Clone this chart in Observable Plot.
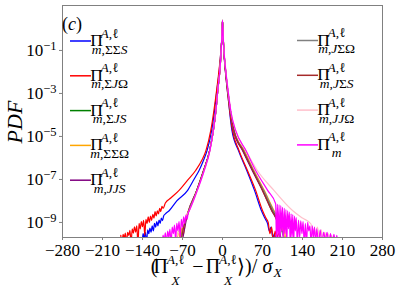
<!DOCTYPE html>
<html><head><meta charset="utf-8">
<script src="https://cdn.jsdelivr.net/npm/d3@7"></script>
<script src="https://cdn.jsdelivr.net/npm/@observablehq/plot@0.6"></script>
<style>
body{margin:0;background:#fff;}
#chart{width:399px;height:290px;}
#chart svg text, #chart svg tspan { font-family: "Liberation Serif", "Times New Roman", Times, serif !important; }
</style></head><body><div id="chart"></div>
<script>
// ---------- data ----------
const seriesKeys = ["ΣΣS","ΣJΩ","ΣJS","ΣΣΩ","JJS","JΣΩ","JΣS","JJΩ","m"];
const seriesColors = ["#0000ff","#ff0000","#008000","#ffa500","#800080","#808080","#a52a2a","#ffc0cb","#ff00ff"];
const xTicks = [-280,-210,-140,-70,0,70,140,210,280];
const yTicks = [1e-1,1e-3,1e-5,1e-7,1e-9];

const x_SSS = [-143,-141,-139,-137,-135,-133,-131,-129,-127,-125,-123,-121,-119,-117,-115,-113,-111,-109,-107,-105,-103,-100,-93,-80,-61,-50,-41,-33,-27,-19,-14,-9.5,-5.5,-3,-1,0,1,3,6,10,16.5,28,42.5,56,68,74,79,82,85,88,91,94];
const p_SSS = [2e-10,1e-10,3e-10,2e-10,3.5e-10,1e-10,4.5e-10,3e-10,5.5e-10,3.5e-10,7e-10,4e-10,9e-10,6e-10,1.1e-9,7e-10,1.3e-9,9e-10,1.6e-9,1.2e-9,2e-9,2.5e-9,3.6e-9,1e-8,3.1e-8,1e-7,2.6e-7,8e-7,2.2e-6,1.9e-5,1.6e-4,1.6e-3,1.26e-2,7.9e-2,0.5,2.5,0.5,5e-2,6e-3,6e-4,1.9e-5,2.2e-6,2.6e-7,3.1e-8,3.6e-9,1.6e-9,8.7e-10,4e-10,6e-10,2e-10,3e-10,1e-10];

const x_SJO = [-178,-176,-174,-172,-170,-168,-166,-164,-162,-160,-158,-156,-154,-152,-150,-148,-146,-144,-142,-140,-138,-136,-134,-132,-130,-128,-126,-124,-122,-120,-118,-116,-114,-112,-110,-108,-106,-104,-100,-90,-76,-61,-47,-36,-29,-20.5,-15,-10,-6,-3,-1,0,1,3,6,10,17.5,29,43.7,58,70,76,80,83,86,89,92,95,98,102];
const p_SJO = [2.5e-10,1e-10,2.8e-10,2e-10,3.2e-10,1e-10,3.5e-10,2.5e-10,4.3e-10,1e-10,5e-10,3.2e-10,6.3e-10,3.5e-10,7e-10,1e-10,9e-10,5e-10,1.1e-9,6.3e-10,1.26e-9,2.5e-10,1.4e-9,9e-10,1.8e-9,1e-9,2e-9,1.26e-9,2.4e-9,1.6e-9,3.2e-9,2e-9,3.5e-9,2.5e-9,4.5e-9,3.2e-9,5.6e-9,4.5e-9,8e-9,1.4e-8,3.1e-8,9.3e-8,2.6e-7,8e-7,2.2e-6,1.9e-5,1.6e-4,1.6e-3,1.26e-2,7.9e-2,0.5,2.5,0.5,5e-2,6e-3,6e-4,1.9e-5,2.2e-6,2.6e-7,3.1e-8,3.6e-9,1.6e-9,1e-9,3e-10,6e-10,1e-10,4e-10,2e-10,3e-10,1e-10];

const x_SJS = [-76,-72,-68,-64,-59,-45,-33,-22.5,-16,-11.5,-8,-4.5,-2.5,-1,0,1,3,6,10,15,20,36,53,71,88,100,106,110];
const p_SJS = [1e-10,3e-10,6e-10,1.5e-9,3.6e-9,3.1e-8,2.6e-7,2.2e-6,1.9e-5,1.6e-4,1.6e-3,1.26e-2,7.9e-2,0.5,2.5,0.55,6e-2,8e-3,9e-4,1e-4,1.9e-5,2.2e-6,2.6e-7,3.1e-8,3.6e-9,8.7e-10,3e-10,1e-10];

const x_SSO = [-80,-77,-74,-71,-68,-65,-60,-45,-33,-22.5,-16,-11.5,-8,-4.5,-2.5,-1,0,1,3,6,10,15,20,38,55,73,90,100,104,107,110,113];
const p_SSO = [1e-10,4e-10,1.5e-10,6e-10,3e-10,1.2e-9,3.4e-9,3.1e-8,2.6e-7,2.2e-6,1.9e-5,1.6e-4,1.6e-3,1.26e-2,7.9e-2,0.5,2.5,0.55,6e-2,8e-3,9e-4,1e-4,1.9e-5,2.2e-6,2.6e-7,3.1e-8,3.6e-9,1.2e-9,4e-10,8e-10,2e-10,1e-10];

const x_JJS = [-70,-61,-45,-33,-22.5,-16,-11.5,-8,-4.5,-2.5,-1,0,1,3,6,10,15,19,35,52,70,86,97,104];
const p_JJS = [1.5e-10,2.5e-9,3.1e-8,2.6e-7,2.2e-6,1.9e-5,1.6e-4,1.6e-3,1.26e-2,7.9e-2,0.5,2.5,0.55,6e-2,8e-3,9e-4,1e-4,1.9e-5,2.2e-6,2.6e-7,3.1e-8,3.6e-9,8.7e-10,1e-10];

const x_JSO = [-74,-69,-64,-59,-45,-33,-22.5,-16,-11.5,-8,-4.5,-2.5,-1,0,1,3,6,10,15,20,37,54,72,89,100,105,110];
const p_JSO = [1e-10,5e-10,1.4e-9,3.6e-9,3.1e-8,2.6e-7,2.2e-6,1.9e-5,1.6e-4,1.6e-3,1.26e-2,7.9e-2,0.5,2.5,0.55,6e-2,8e-3,9e-4,1e-4,1.9e-5,2.2e-6,2.6e-7,3.1e-8,3.6e-9,1e-9,3e-10,1e-10];

const x_JSS = [-73,-68,-63,-58,-45,-33,-22.5,-16,-11.5,-8,-4.5,-2.5,-1,0,1,3,6,10,15,20,36,53,70,86,96,102];
const p_JSS = [1e-10,6e-10,1.7e-9,3.8e-9,3.1e-8,2.6e-7,2.2e-6,1.9e-5,1.6e-4,1.6e-3,1.26e-2,7.9e-2,0.5,2.5,0.55,6e-2,8e-3,9e-4,1e-4,1.9e-5,2.2e-6,2.6e-7,3.1e-8,3.6e-9,1e-9,1e-10];

const x_JJO = [-84,-78,-72,-66,-58,-44,-32,-22,-16,-11.5,-8,-4.5,-2.5,-1,0,1,3,6,10,15,23,41,61,90,122.5,140,154.5,162,166,170,173,176,179,182,185,188,191,194];
const p_JJO = [1e-10,3e-10,6e-10,1.5e-9,3.6e-9,3.1e-8,2.6e-7,2.2e-6,1.9e-5,1.6e-4,1.6e-3,1.26e-2,7.9e-2,0.5,2.5,0.6,7e-2,1e-2,1.2e-3,1.3e-4,1.9e-5,2.2e-6,2.6e-7,3.1e-8,3.6e-9,1.6e-9,8.7e-10,3e-10,6e-10,2e-10,4.5e-10,1e-10,3.5e-10,1.5e-10,3e-10,1e-10,2.5e-10,1e-10];

const x_m = [-108,-106,-104,-102,-100,-98,-96,-94,-92,-90,-88,-86,-84,-82,-80,-78,-76,-74,-72,-70,-68,-66,-64,-62,-60,-58,-44,-32,-22,-16,-11.5,-8,-4.5,-2.5,-1,0,1,3,6,10,15,23,41,58,79,93,94.5,96,97.5,99,100.5,102,103.5,105,106.5,108,109.5,111,112.5,114,115.5,117,118.5,120,121.5,123,124.5,126,127.5,129,131,133,135,137,139,141,143,145,147,149,151,153,155,157,159,161,163,165,168,171,174,177,180,183,186,189,192,195,198,200,202];
const p_m = [2e-10,1e-10,2.6e-10,1.5e-10,3.3e-10,1e-10,4e-10,2e-10,4.8e-10,1e-10,6e-10,3e-10,7.5e-10,1.5e-10,9e-10,4e-10,1.1e-9,2e-10,1.4e-9,6e-10,1.8e-9,9e-10,2.2e-9,1.4e-9,2.8e-9,3.6e-9,3.1e-8,2.6e-7,2.2e-6,1.9e-5,1.6e-4,1.6e-3,1.26e-2,7.9e-2,0.5,2.5,0.6,7e-2,1e-2,1.2e-3,1.3e-4,1.9e-5,2.2e-6,2.6e-7,3.1e-8,7.4e-9,1e-10,7e-9,2e-10,6.5e-9,1e-10,6e-9,4e-10,5e-9,1e-10,4.5e-9,3e-10,4e-9,1e-10,3.5e-9,5e-10,3e-9,1e-10,2.5e-9,2e-10,2.3e-9,1e-10,2e-9,4e-10,1.7e-9,1e-10,1.3e-9,2e-10,1.2e-9,3e-10,1.1e-9,1e-10,9e-10,1e-10,1e-9,4e-10,7e-10,1e-10,7e-10,2e-10,6e-10,1e-10,5e-10,1e-10,4.5e-10,1e-10,3.5e-10,1.5e-10,3.5e-10,1e-10,3e-10,1e-10,2.8e-10,1e-10,2.5e-10,1e-10];

const seriesX = [x_SSS, x_SJO, x_SJS, x_SSO, x_JJS, x_JSO, x_JSS, x_JJO, x_m];
const seriesP = [p_SSS, p_SJO, p_SJS, p_SSO, p_JJS, p_JSO, p_JSS, p_JJO, p_m];

// ---------- build table ----------
const rows = [];
seriesKeys.forEach((k, i) => {
  seriesX[i].forEach((x, j) => rows.push({s: k, x, p: seriesP[i][j]}));
});

const FONT = "Liberation Serif, Times New Roman, serif";
const chart = Plot.plot({
  width: 399, height: 290,
  marginLeft: 62, marginRight: 17, marginTop: 5, marginBottom: 53,
  style: {fontFamily: FONT, fontSize: "17px", color: "#000", background: "#fff", overflow: "visible"},
  x: {domain: [-280, 280], ticks: xTicks, tickSize: 3, tickPadding: 3, label: null,
      tickFormat: d => (d < 0 ? "\u2212" : "") + Math.abs(d)},
  y: {type: "log", domain: [Math.pow(10, -9.7), Math.pow(10, 1.09)], ticks: yTicks, tickSize: 3, tickPadding: 3, label: null,
      tickFormat: d => "10^\u2212" + Math.abs(Math.round(Math.log10(d)))},
  color: {domain: seriesKeys, range: seriesColors},
  marks: [
    Plot.line(rows, {x: "x", y: "p", z: "s", stroke: "s", strokeWidth: 1.2, curve: "monotone-x", clip: true}),
    Plot.frame({stroke: "#808080"})
  ]
});
document.getElementById("chart").appendChild(chart);

const svg = d3.select(chart);
svg.selectAll("text").each(function () {
  const t = this.textContent;
  if (t.startsWith("10^")) {
    const e = t.slice(3);
    const sel = d3.select(this);
    sel.text(null);
    sel.append("tspan").text("10");
    sel.append("tspan").attr("dy", "-0.5em").attr("font-size", "12.5px").text(e);
  }
});
svg.selectAll('g[aria-label="y-axis tick"] path, g[aria-label="x-axis tick"] path, g.tick line').attr("stroke", "#808080");

function rich(g, x, y, str, size, opts = {}) {
  const t = g.append("text").attr("x", x).attr("y", y).attr("font-size", size + "px").attr("fill", "#000");
  for (const c of str) {
    const it = opts.italic || (!opts.upright && /[A-Za-z]/.test(c));
    t.append("tspan").attr("font-style", it ? "italic" : "normal").text(c);
  }
  return t.node().getComputedTextLength();
}
function supsub(g, x, y, sup, sub, size, up, down) {
  const w1 = sup ? rich(g, x, y - up, sup, size) : 0;
  const w2 = sub ? rich(g, x, y + down, sub, size) : 0;
  return Math.max(w1, w2);
}

// legend
const lg = svg.append("g");
rich(lg, 72, 30, "(c)", 18);
function entry(i, lx, ly) {
  lg.append("line").attr("x1", lx).attr("x2", lx + 21).attr("y1", ly).attr("y2", ly)
    .attr("stroke", seriesColors[i]).attr("stroke-width", 1.5);
  let x = lx + 26.5;
  const w = rich(lg, x, ly + 5, "Π", 17.5, {upright: true});
  x += w + 0.5;
  const sub = seriesKeys[i] === "m" ? "m" : "m," + seriesKeys[i];
  supsub(lg, x, ly + 5, "A,ℓ", sub, 13.5, 8.5, 7.5);
}
for (let i = 0; i < 5; i++) entry(i, 70, 41 + i * 34.8);
for (let i = 5; i < 9; i++) entry(i, 297, 40.5 + (i - 5) * 34.8);

// y label
svg.append("text").attr("transform", "translate(21.5,122) rotate(-90)")
  .attr("text-anchor", "middle").attr("font-size", "22px")
  .attr("font-style", "italic").attr("fill", "#000").text("PDF");

// x label
const xl = svg.append("g");
let cx = 0; const by = 273;
cx += rich(xl, cx, by, "(", 20, {upright: true});
cx += rich(xl, cx, by, "Π", 20, {upright: true}) + 0.5;
cx += supsub(xl, cx, by, "A,ℓ", "X", 13.5, 9, 11.5) + 4;
cx += rich(xl, cx, by, "−", 20, {upright: true}) + 4;
cx += rich(xl, cx, by, "Π", 20, {upright: true}) + 0.5;
cx += supsub(xl, cx, by, "A,ℓ", "X", 13.5, 9, 11.5) + 1;
cx += rich(xl, cx, by, "⟩)/", 20, {upright: true});
cx += rich(xl, cx, by, "σ", 20, {italic: true}) + 0.5;
cx += supsub(xl, cx, by, null, "X", 13.5, 0, 4);
xl.attr("transform", `translate(${220 - cx / 2},0)`);
</script></body></html>
